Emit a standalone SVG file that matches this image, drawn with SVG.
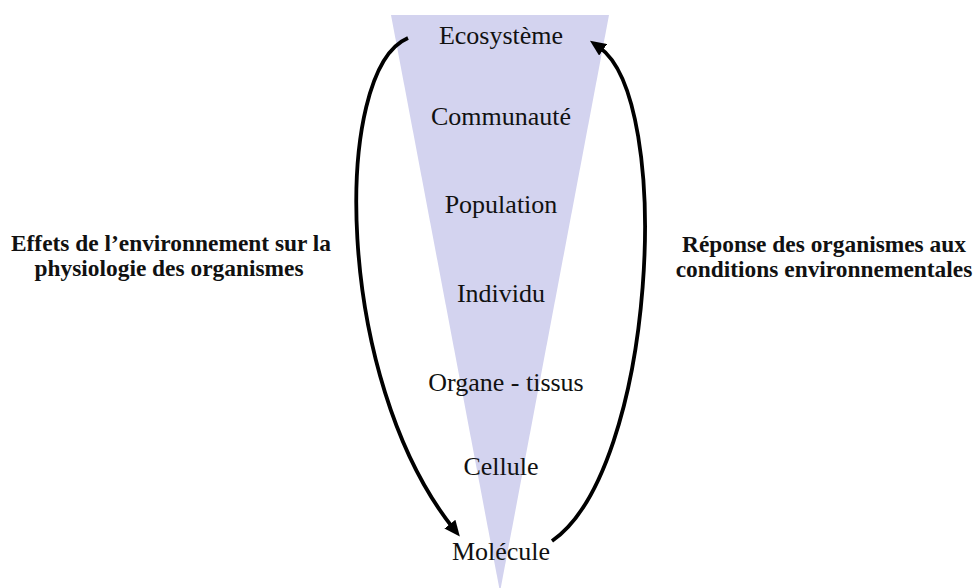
<svg xmlns="http://www.w3.org/2000/svg" width="976" height="588" viewBox="0 0 976 588">
<style>
.lvl{font-family:"Liberation Serif","Times New Roman","DejaVu Serif",serif;font-size:26px;fill:#111;text-anchor:middle}
.side{font-family:"Liberation Serif","Times New Roman","DejaVu Serif",serif;font-size:23.4px;font-weight:bold;fill:#111;text-anchor:middle}
.arc{fill:none;stroke:#000;stroke-width:3.8}
</style>
<defs>
<marker id="ah" viewBox="0 0 16 14" refX="5" refY="7" markerWidth="16" markerHeight="14" markerUnits="userSpaceOnUse" orient="auto">
<path d="M0,0 L16,7 L0,14 z" fill="#000"/>
</marker>
</defs>
<rect width="976" height="588" fill="#fff"/>
<g id="funnel">
<polygon points="391,15 609,15 500,592" fill="#d3d3ef"/>
</g>
<g id="ecosysteme"><text class="lvl" x="501" y="44">Ecosystème</text></g>
<g id="communaute"><text class="lvl" x="501" y="125">Communauté</text></g>
<g id="population"><text class="lvl" x="501" y="213">Population</text></g>
<g id="individu"><text class="lvl" x="501" y="302">Individu</text></g>
<g id="organe"><text class="lvl" x="506" y="391">Organe - tissus</text></g>
<g id="cellule"><text class="lvl" x="501" y="475">Cellule</text></g>
<g id="molecule"><text class="lvl" x="501" y="560">Molécule</text></g>
<g id="label-left">
<text class="side" x="171" y="251">Effets de l’environnement sur la</text>
<text class="side" x="169" y="276">physiologie des organismes</text>
</g>
<g id="label-right">
<text class="side" x="824" y="252">Réponse des organismes aux</text>
<text class="side" x="824" y="277">conditions environnementales</text>
</g>
<g id="connectors">
<path class="arc" d="M408,38 C332,70 334,378 453,528" marker-end="url(#ah)"/>
<path class="arc" d="M552,541 C655,470 675,100 599,47" marker-end="url(#ah)"/>
</g>
</svg>
